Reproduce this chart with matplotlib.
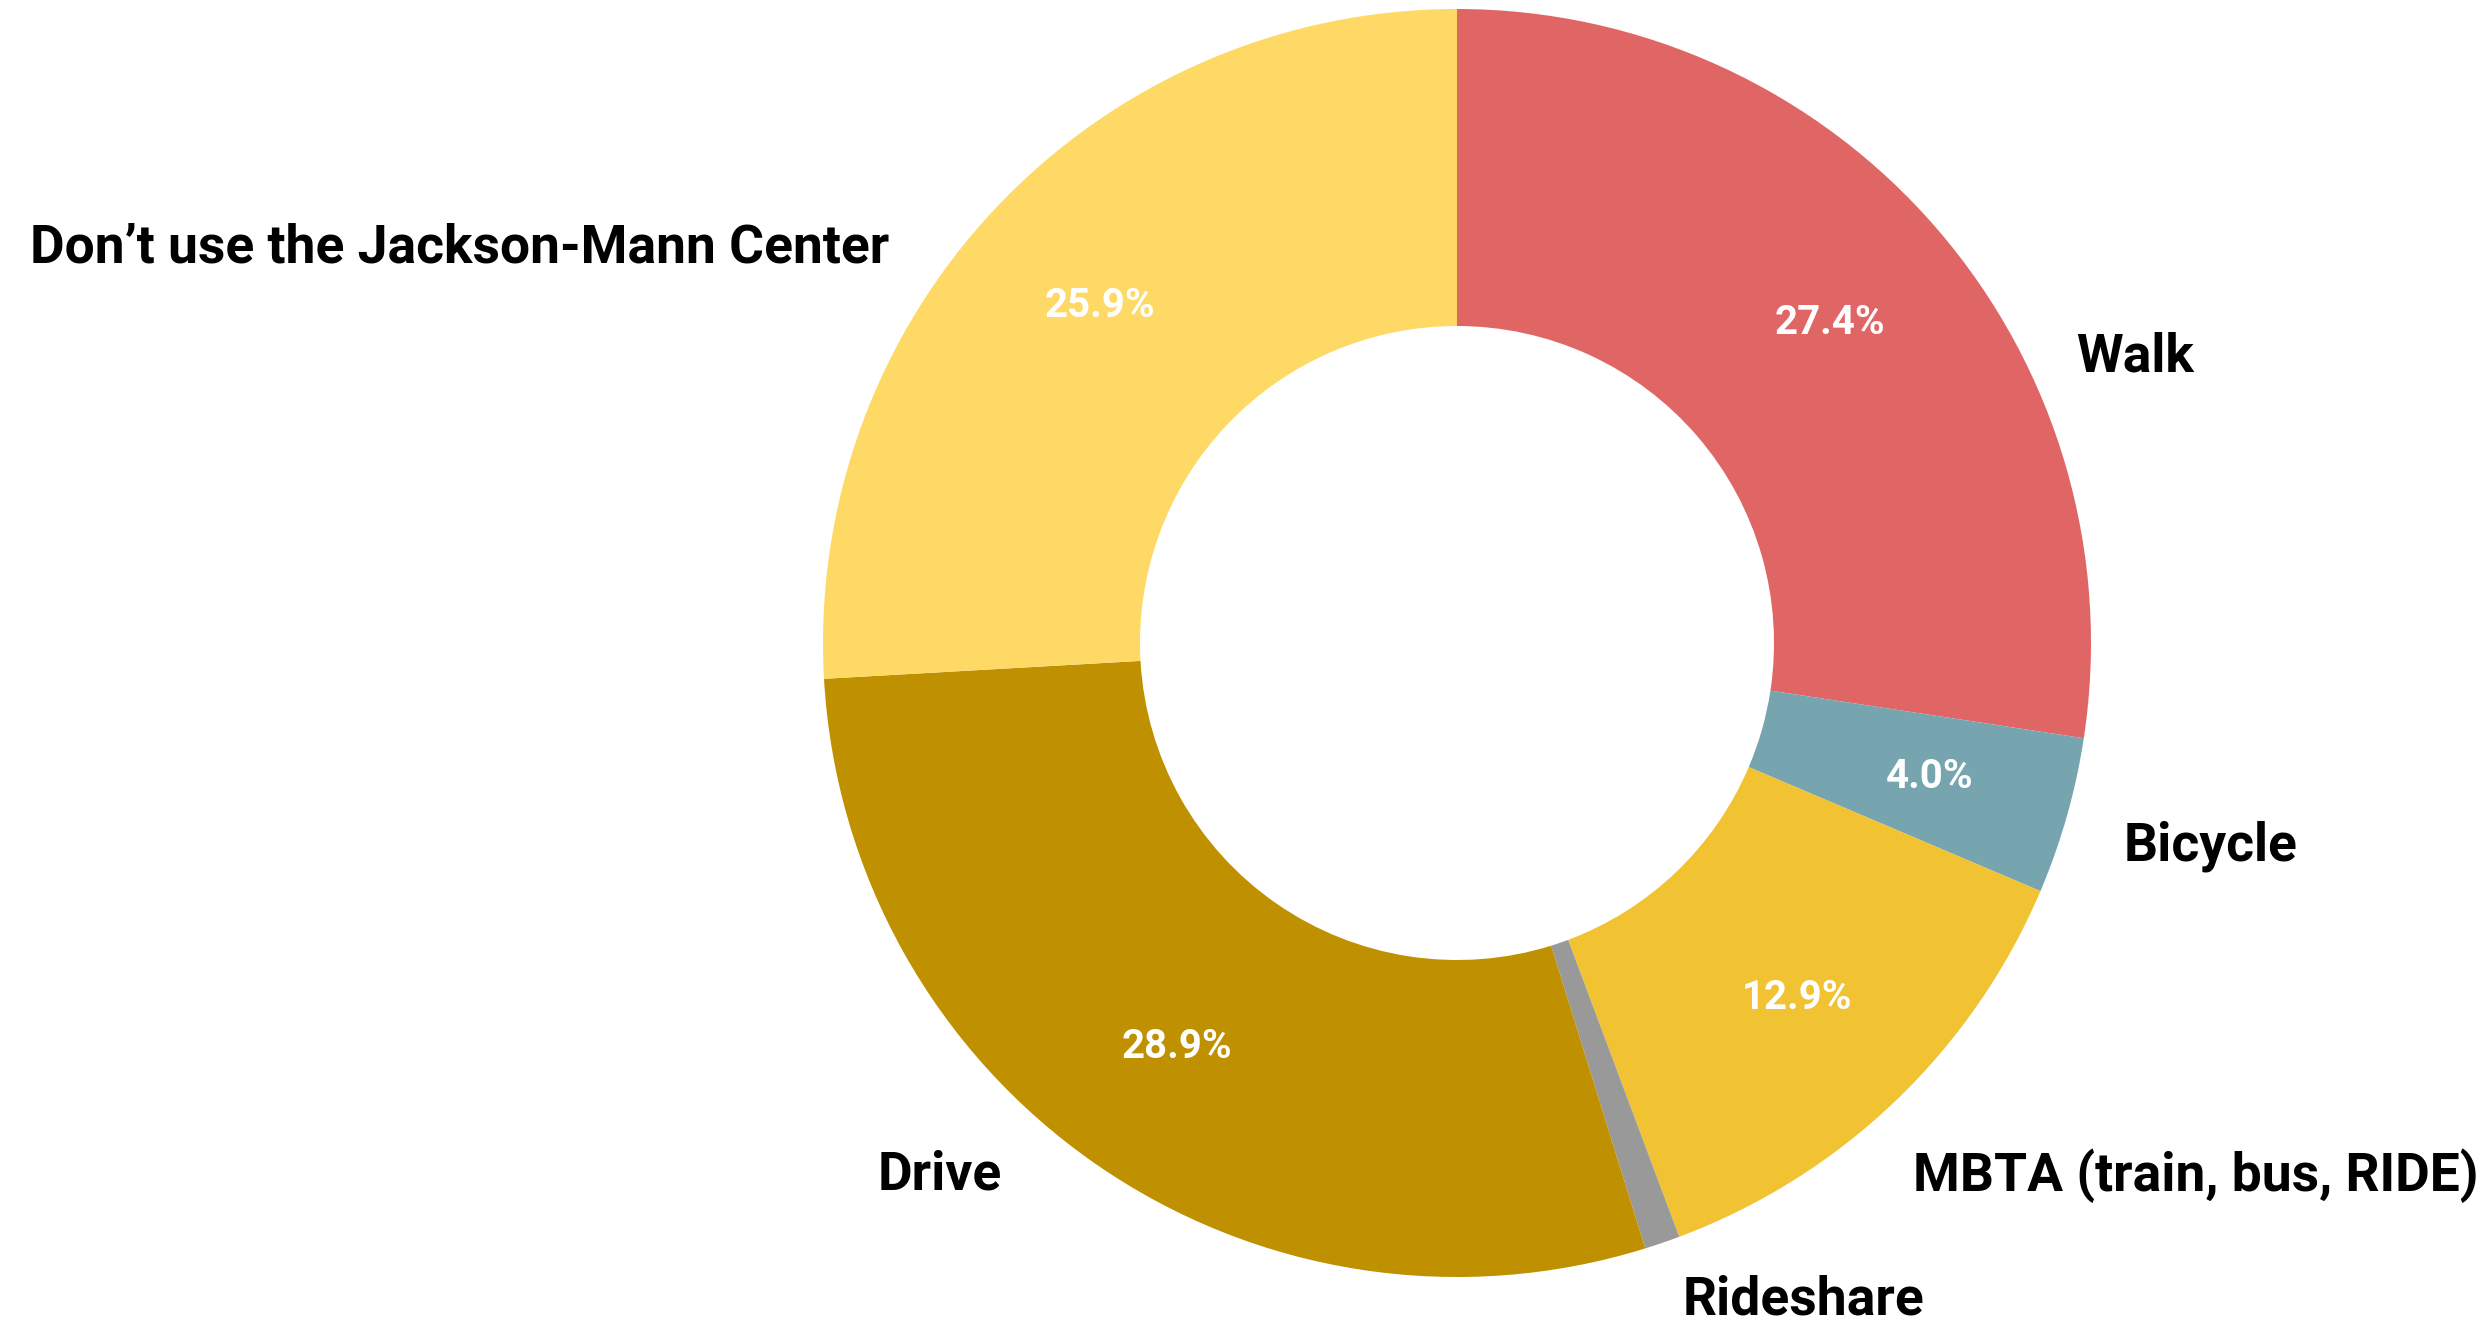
import matplotlib
matplotlib.use("Agg")
import matplotlib.pyplot as plt

categories = ["Walk", "Bicycle", "MBTA (train, bus, RIDE)", "Rideshare", "Drive",
              "Don\u2019t use the Jackson-Mann Center"]
values = [27.4, 4.0, 12.9, 0.9, 28.9, 25.9]
colors = ["#E06666", "#76A5AF", "#F1C232", "#999999", "#BF9000", "#FFD966"]

fam = ["Roboto", "Liberation Sans", "DejaVu Sans"]

W, H = 2489, 1330
fig = plt.figure(figsize=(W / 100, H / 100), dpi=100)
ax = fig.add_axes([0, 0, 1, 1])

cx, cy, R = 1457, 687, 634


def pct(p):
    return f"{p:.1f}%" if p >= 2 else ""


wedges, texts, autotexts = ax.pie(
    values, colors=colors, startangle=90, counterclock=False,
    center=(cx, cy), radius=R, autopct=pct, pctdistance=0.775,
    wedgeprops=dict(width=R * 0.5, linewidth=0),
    textprops=dict(color="white", fontsize=29, fontweight="bold", family=fam),
    frame=True)
ax.set_xlim(0, W)
ax.set_ylim(0, H)
ax.set_aspect("equal")
ax.axis("off")

# label placement (pixel layout), one per category
label_pos = [(2076, 973, "left"), (2124, 484, "left"), (1913, 154, "left"),
             (1683, 30, "left"), (1002, 155, "right"), (889, 1082, "right")]
labels = []
for name, (x, y, ha) in zip(categories, label_pos):
    labels.append(ax.text(x, y, name, ha=ha, va="center", fontsize=38,
                          fontweight="bold", family=fam, color="black"))

# fit label size so the longest label spans ~860 px like the reference
fig.canvas.draw()
r = fig.canvas.get_renderer()
wlong = labels[-1].get_window_extent(r).width
size = 38 * 860 / wlong
for t in labels:
    t.set_fontsize(size)

fig.savefig("out.png", dpi=100, facecolor="white")
